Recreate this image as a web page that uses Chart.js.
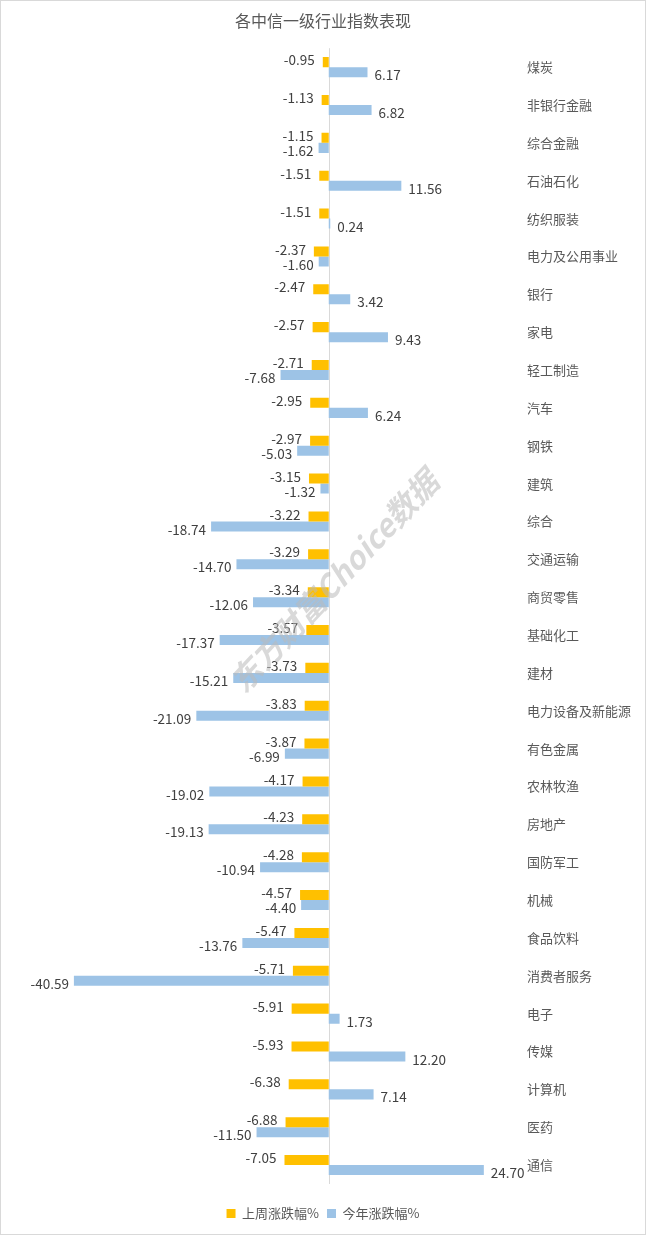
<!DOCTYPE html>
<html><head><meta charset="utf-8">
<script src="https://cdn.jsdelivr.net/npm/chart.js@4.4.0/dist/chart.umd.min.js"></script>
<style>
html,body{margin:0;padding:0;background:#fff;}
#wrap{position:relative;width:644px;height:1233px;border:1px solid #d9d9d9;}
</style></head>
<body><div id="wrap"><canvas id="c" width="644" height="1233"></canvas></div>
<script>
const categories = ["煤炭","非银行金融","综合金融","石油石化","纺织服装","电力及公用事业","银行","家电","轻工制造","汽车","钢铁","建筑","综合","交通运输","商贸零售","基础化工","建材","电力设备及新能源","有色金属","农林牧渔","房地产","国防军工","机械","食品饮料","消费者服务","电子","传媒","计算机","医药","通信"];
const lastWeek = [-0.95,-1.13,-1.15,-1.51,-1.51,-2.37,-2.47,-2.57,-2.71,-2.95,-2.97,-3.15,-3.22,-3.29,-3.34,-3.57,-3.73,-3.83,-3.87,-4.17,-4.23,-4.28,-4.57,-5.47,-5.71,-5.91,-5.93,-6.38,-6.88,-7.05];
const thisYear = [6.17,6.82,-1.62,11.56,0.24,-1.60,3.42,9.43,-7.68,6.24,-5.03,-1.32,-18.74,-14.70,-12.06,-17.37,-15.21,-21.09,-6.99,-19.02,-19.13,-10.94,-4.40,-13.76,-40.59,1.73,12.20,7.14,-11.50,24.70];
const seriesNames = ["上周涨跌幅%","今年涨跌幅%"];
const titleText = "各中信一级行业指数表现";
const watermarkText = "东方财富Choice数据";

const FONT = '"Noto Sans CJK SC","Microsoft YaHei",sans-serif';

const zeroLinePlugin = {
  id: 'zeroLine',
  beforeDatasetsDraw(chart) {
    const ctx = chart.ctx, xs = chart.scales.x, a = chart.chartArea;
    const x = Math.round(xs.getPixelForValue(0)) + 0.5;
    ctx.save();
    ctx.strokeStyle = '#d9d9d9';
    ctx.lineWidth = 1;
    ctx.beginPath();
    ctx.moveTo(x, a.top);
    ctx.lineTo(x, a.bottom);
    ctx.stroke();
    ctx.restore();
  }
};

const labelPlugin = {
  id: 'valueLabels',
  afterDatasetsDraw(chart) {
    const ctx = chart.ctx;
    ctx.save();
    ctx.font = '13.5px ' + FONT;
    ctx.fillStyle = '#404040';
    ctx.textBaseline = 'middle';
    chart.data.datasets.forEach((ds, di) => {
      const meta = chart.getDatasetMeta(di);
      meta.data.forEach((el, i) => {
        const v = ds.data[i];
        const txt = v.toFixed(2);
        const dy = di === 0 ? -2 : 3;
        if (v < 0) {
          ctx.textAlign = 'right';
          ctx.fillText(txt, Math.min(el.x, el.base) - (di === 0 ? 8 : 5), el.y + dy);
        } else {
          ctx.textAlign = 'left';
          ctx.fillText(txt, Math.max(el.x, el.base) + 7, el.y + dy);
        }
      });
    });
    ctx.restore();
  }
};

const watermarkPlugin = {
  id: 'watermark',
  afterDatasetsDraw(chart) {
    const ctx = chart.ctx;
    ctx.save();
    ctx.translate(333, 580);
    ctx.rotate(-47 * Math.PI / 180);
    ctx.font = 'italic bold 31px ' + FONT;
    ctx.fillStyle = 'rgba(185,185,185,0.55)';
    ctx.textAlign = 'center';
    ctx.textBaseline = 'middle';
    ctx.fillText(watermarkText, 0, 0);
    ctx.restore();
  }
};

new Chart(document.getElementById('c'), {
  type: 'bar',
  data: {
    labels: categories,
    datasets: [
      { label: seriesNames[0], data: lastWeek, backgroundColor: '#FFC000', categoryPercentage: 0.53, barPercentage: 1 },
      { label: seriesNames[1], data: thisYear, backgroundColor: '#9DC3E6', categoryPercentage: 0.53, barPercentage: 1 }
    ]
  },
  options: {
    indexAxis: 'y',
    responsive: false,
    animation: false,
    layout: { padding: { left: 0, right: 0, top: 0, bottom: 4 } },
    scales: {
      x: {
        min: -52.2, max: 30.3,
        ticks: { display: false },
        border: { display: false },
        grid: { display: false, drawTicks: false },
        afterFit(scale) { scale.height = 15; }
      },
      y: {
        position: 'right',
        grid: { display: false, drawTicks: false },
        border: { display: false },
        ticks: { color: '#595959', font: { size: 13, family: FONT }, crossAlign: 'near', padding: 8 },
        afterFit(scale) { scale.width = 126; }
      }
    },
    plugins: {
      title: { display: true, text: titleText, color: '#595959', font: { size: 16, family: FONT, weight: 'normal' }, padding: { top: 10, bottom: 18 } },
      legend: {
        position: 'bottom',
        labels: { color: '#595959', font: { size: 13, family: FONT }, boxWidth: 9, boxHeight: 9, padding: 8 }
      },
      tooltip: { enabled: false }
    }
  },
  plugins: [zeroLinePlugin, labelPlugin, watermarkPlugin]
});
</script></body></html>
